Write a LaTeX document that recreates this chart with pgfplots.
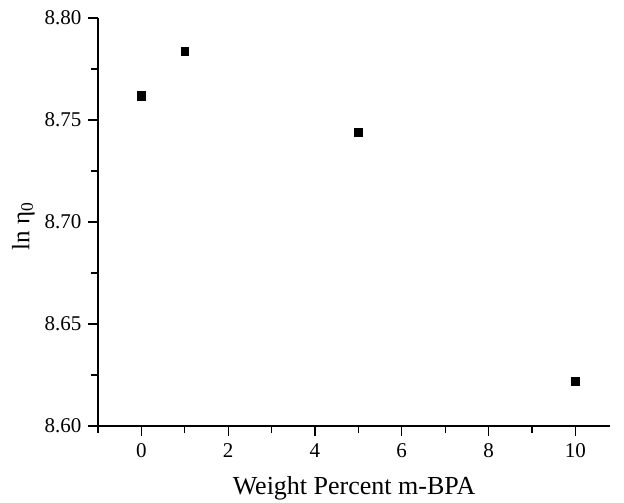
\documentclass[border=0pt]{standalone}
\usepackage{fontspec}
\setmainfont{Liberation Serif}
\usepackage{pgfplots}
\pgfplotsset{compat=1.18}
\begin{document}
\begin{tikzpicture}
\begin{axis}[
  scale only axis,
  width=512pt, height=408pt,
  xmin=-1, xmax=10.8,
  ymin=8.60, ymax=8.80,
  axis lines*=left,
  axis line style={line width=1.3pt},
  xtick={0,2,4,6,8,10},
  minor xtick={-1,1,3,5,7,9},
  ytick={8.60,8.65,8.70,8.75,8.80},
  minor ytick={8.625,8.675,8.725,8.775},
  tick align=outside,
  major tick length=10pt,
  minor tick length=7pt,
  tick style={black, line width=1.2pt},
  /pgf/number format/assume math mode=true,
  ticklabel style={font=\fontsize{21}{21}\selectfont},
  xticklabel style={yshift=-4pt},
  yticklabel style={xshift=-3pt, /pgf/number format/fixed, /pgf/number format/fixed zerofill, /pgf/number format/precision=2},
  xlabel={Weight Percent m-BPA},
  ylabel={ln η\textsubscript{0}},
  xlabel style={font=\fontsize{26}{26}\selectfont, at={(axis description cs:0.5,-0.1667)}, anchor=base},
  ylabel style={font=\fontsize{25}{25}\selectfont, at={(axis description cs:-0.146,0.49)}, anchor=center, rotate=0},
  clip=false,
]
\addplot[only marks, mark=square*, mark size=4.3pt, color=black]
  coordinates {(0, 8.762)};
\addplot[only marks, mark=square*, mark size=3.8pt, color=black]
  coordinates {(1, 8.7838) (5, 8.7441) (10, 8.622)};
\end{axis}
\path (current axis.south west) ++(-98pt,-73pt) rectangle ([shift={(14pt,18pt)}]current axis.north east);
\end{tikzpicture}
\end{document}
